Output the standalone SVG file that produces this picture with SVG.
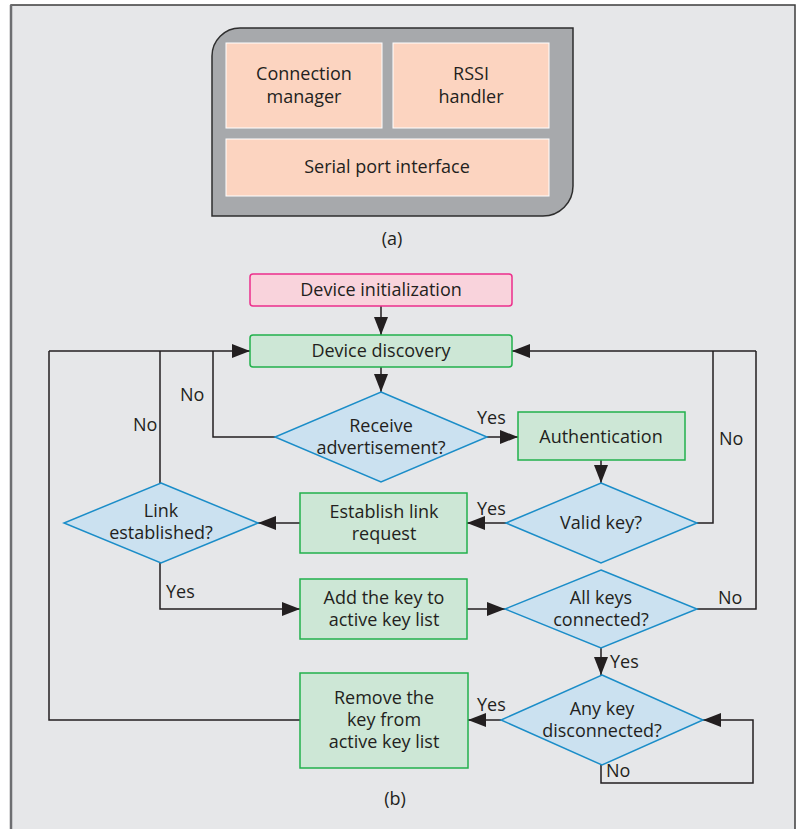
<svg xmlns="http://www.w3.org/2000/svg" width="798" height="829" viewBox="0 0 798 829">
  <style>
    .t { font-family: "Open Sans", Lato, "Liberation Sans", sans-serif; font-size: 18px; fill: #231f20; text-anchor: middle; }
    .lbl { font-family: "Open Sans", Lato, "Liberation Sans", sans-serif; font-size: 18px; fill: #231f20; }
    .mod { fill: #fcd4c0; stroke: #ffffff; stroke-width: 1; }
    .proc { fill: #cde7d6; stroke: #22b14c; stroke-width: 1.5; }
    .dec { fill: #cbe1f0; stroke: #1b8dc8; stroke-width: 1.5; }
    .start { fill: #f9d3dc; stroke: #ec2f8c; stroke-width: 1.5; }
    .wire { fill: none; stroke: #231f20; stroke-width: 1.5; }
  </style>
  <defs>
    <marker id="arrow" markerUnits="userSpaceOnUse" markerWidth="18" markerHeight="14" refX="18" refY="7" orient="auto">
      <path d="M0,0 L18,7 L0,14 Z" fill="#231f20"/>
    </marker>
  </defs>

  <!-- page background and frame -->
  <rect x="0" y="0" width="798" height="829" fill="#ffffff"/>
  <rect x="11" y="5" width="784" height="840" fill="#e6e7e9" stroke="#3c3c3c" stroke-width="1.5"/>
  <line x1="11" y1="5" x2="11" y2="829" stroke="#6d6e71" stroke-width="2.5"/>

  <!-- (a) module block -->
  <g id="module">
    <path d="M240,28 L573,28 L573,186 A30,30 0 0 1 543,216 L212,216 L212,56 A28,28 0 0 1 240,28 Z" fill="#a7a9ac" stroke="#2e2e2e" stroke-width="1.5"/>
  </g>
  <g id="connection-manager">
    <rect class="mod" x="226" y="43" width="156" height="85"/>
    <text class="t" x="304" y="80">Connection</text>
    <text class="t" x="304" y="103">manager</text>
  </g>
  <g id="rssi-handler">
    <rect class="mod" x="393" y="43" width="156" height="85"/>
    <text class="t" x="471" y="80">RSSI</text>
    <text class="t" x="471" y="103">handler</text>
  </g>
  <g id="serial-port">
    <rect class="mod" x="226" y="139" width="323" height="57"/>
    <text class="t" x="387" y="173">Serial port interface</text>
  </g>
  <text class="t" x="392" y="245">(a)</text>

  <!-- (b) flowchart connectors -->
  <g id="connectors">
    <line class="wire" x1="381" y1="306" x2="381" y2="335" marker-end="url(#arrow)"/>
    <line class="wire" x1="381" y1="367" x2="381" y2="392" marker-end="url(#arrow)"/>
    <!-- receive advertisement: no -->
    <polyline class="wire" points="275,437 213,437 213,351"/>
    <!-- left loop lines into discovery -->
    <polyline class="wire" points="49,351 250,351" marker-end="url(#arrow)"/>
    <!-- receive advertisement: yes -->
    <line class="wire" x1="487" y1="437" x2="518" y2="437" marker-end="url(#arrow)"/>
    <line class="wire" x1="601" y1="460" x2="601" y2="483" marker-end="url(#arrow)"/>
    <!-- valid key: no -->
    <polyline class="wire" points="697,523 713,523 713,351"/>
    <polyline class="wire" points="756,351 512,351" marker-end="url(#arrow)"/>
    <!-- valid key: yes -->
    <line class="wire" x1="506" y1="523" x2="467" y2="523" marker-end="url(#arrow)"/>
    <line class="wire" x1="300" y1="523" x2="258" y2="523" marker-end="url(#arrow)"/>
    <!-- link established: no -->
    <line class="wire" x1="160" y1="483" x2="160" y2="351"/>
    <!-- link established: yes -->
    <polyline class="wire" points="160,563 160,609 300,609" marker-end="url(#arrow)"/>
    <line class="wire" x1="467" y1="609" x2="505" y2="609" marker-end="url(#arrow)"/>
    <!-- all keys connected: no -->
    <polyline class="wire" points="697,609 756,609 756,351"/>
    <!-- all keys connected: yes -->
    <line class="wire" x1="601" y1="648" x2="601" y2="675" marker-end="url(#arrow)"/>
    <!-- any key disconnected: yes -->
    <line class="wire" x1="501" y1="720" x2="468" y2="720" marker-end="url(#arrow)"/>
    <polyline class="wire" points="300,720 49,720 49,351"/>
    <!-- any key disconnected: no -->
    <polyline class="wire" points="601,765 601,783 753,783 753,720 703,720" marker-end="url(#arrow)"/>

    <text class="lbl" x="180" y="401">No</text>
    <text class="lbl" x="133" y="431">No</text>
    <text class="lbl" x="477" y="424">Yes</text>
    <text class="lbl" x="719" y="445">No</text>
    <text class="lbl" x="477" y="515">Yes</text>
    <text class="lbl" x="166" y="598">Yes</text>
    <text class="lbl" x="718" y="604">No</text>
    <text class="lbl" x="610" y="668">Yes</text>
    <text class="lbl" x="477" y="711">Yes</text>
    <text class="lbl" x="606" y="777">No</text>
  </g>

  <g id="device-initialization">
    <rect class="start" x="250" y="274" width="262" height="32" rx="3"/>
    <text class="t" x="381" y="296">Device initialization</text>
  </g>
  <g id="device-discovery">
    <rect class="proc" x="250" y="335" width="262" height="32" rx="3"/>
    <text class="t" x="381" y="357">Device discovery</text>
  </g>
  <g id="receive-advertisement">
    <polygon class="dec" points="381,392 487,437 381,482 275,437"/>
    <text class="t" x="381" y="432">Receive</text>
    <text class="t" x="381" y="454">advertisement?</text>
  </g>
  <g id="authentication">
    <rect class="proc" x="518" y="412" width="167" height="48"/>
    <text class="t" x="601" y="443">Authentication</text>
  </g>
  <g id="valid-key">
    <polygon class="dec" points="601,483 697,523 601,563 506,523"/>
    <text class="t" x="601" y="529">Valid key?</text>
  </g>
  <g id="establish-link-request">
    <rect class="proc" x="300" y="493" width="167" height="60"/>
    <text class="t" x="384" y="518">Establish link</text>
    <text class="t" x="384" y="540">request</text>
  </g>
  <g id="link-established">
    <polygon class="dec" points="161,483 258,523 161,563 64,523"/>
    <text class="t" x="161" y="517">Link</text>
    <text class="t" x="161" y="539">established?</text>
  </g>
  <g id="add-key">
    <rect class="proc" x="300" y="579" width="167" height="60"/>
    <text class="t" x="384" y="604">Add the key to</text>
    <text class="t" x="384" y="626">active key list</text>
  </g>
  <g id="all-keys-connected">
    <polygon class="dec" points="601,570 697,609 601,648 505,609"/>
    <text class="t" x="601" y="604">All keys</text>
    <text class="t" x="601" y="626">connected?</text>
  </g>
  <g id="any-key-disconnected">
    <polygon class="dec" points="602,675 703,720 602,765 501,720"/>
    <text class="t" x="602" y="715">Any key</text>
    <text class="t" x="602" y="737">disconnected?</text>
  </g>
  <g id="remove-key">
    <rect class="proc" x="300" y="673" width="168" height="95"/>
    <text class="t" x="384" y="704">Remove the</text>
    <text class="t" x="384" y="726">key from</text>
    <text class="t" x="384" y="748">active key list</text>
  </g>
  <text class="t" x="395" y="805">(b)</text>
</svg>
